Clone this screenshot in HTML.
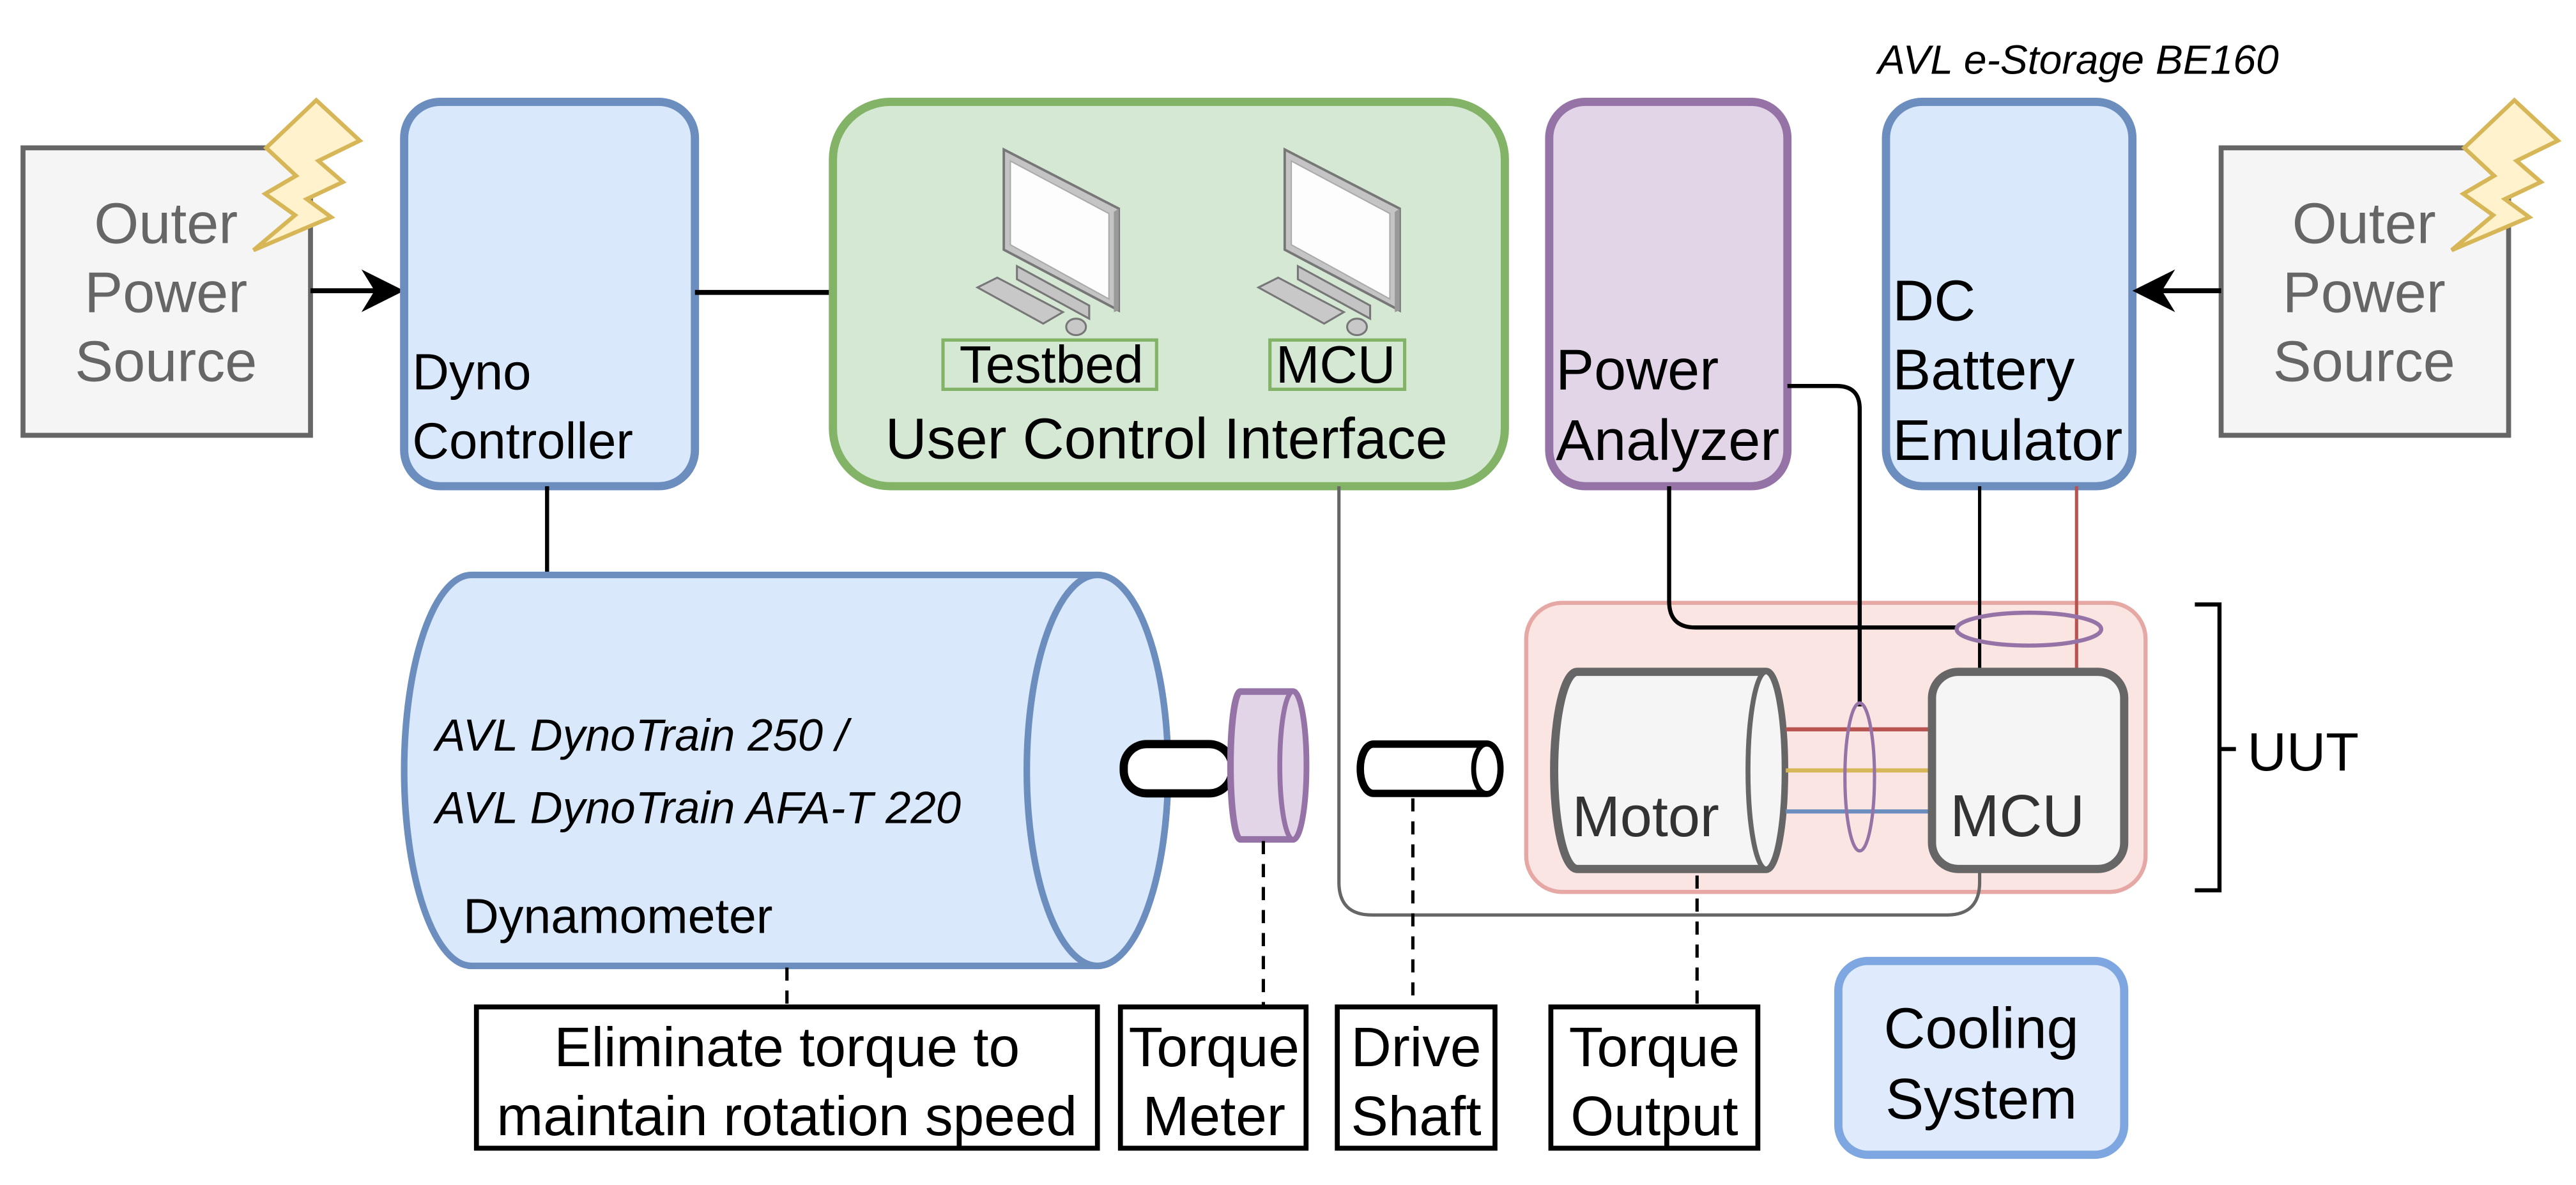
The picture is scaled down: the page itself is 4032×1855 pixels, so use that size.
<!DOCTYPE html>
<html><head><meta charset="utf-8"><style>
html,body{margin:0;padding:0;background:#fff;width:4032px;height:1855px;overflow:hidden}
svg{display:block}
text{font-family:"Liberation Sans",sans-serif}
</style></head><body>
<svg width="4032" height="1855" viewBox="0 0 1568 721.4" xmlns="http://www.w3.org/2000/svg">
<defs>
<g id="pc">
 <polygon points="24,74 68,98 68,106 24,82" fill="#c4c4c4" stroke="#777" stroke-width="1.2"/>
 <polygon points="16,3 86,39 86,101 16,64" fill="#c4c4c4" stroke="#777" stroke-width="1.5"/>
 <polygon points="86,39 83,41 83,102 86,101" fill="#999"/>
 <polygon points="20,10 80,42 80,94 20,61" fill="#fdfdfd" stroke="#aaa" stroke-width="0.8"/>
 <polygon points="0,87 12,81 52,102 40,109" fill="#c8c8c8" stroke="#777" stroke-width="1.2"/>
 <ellipse cx="60" cy="111" rx="6" ry="5" fill="#c8c8c8" stroke="#777" stroke-width="1.2"/>
</g>
<polygon id="bolt" points="192.5,61 219,85.6 193.8,97.9 208.7,110.8 186.7,121.2 201.6,132.2 154.3,152.3 179.6,131 161.4,118 180.2,107 162,90" fill="#fff2cc" stroke="#d6b656" stroke-width="2.5"/>
</defs>

<!-- Left outer power -->
<rect x="14" y="90" width="175" height="175" fill="#f5f5f5" stroke="#666" stroke-width="3"/>
<g fill="#666" font-size="35" text-anchor="middle">
<text x="101" y="148">Outer</text><text x="101" y="190">Power</text><text x="101" y="232">Source</text></g>
<use href="#bolt"/>
<line x1="189" y1="177" x2="232" y2="177" stroke="#000" stroke-width="3"/>
<polygon points="246,177 220,164 228,177 220,190" fill="#000"/>

<!-- Dyno Controller -->
<rect x="246" y="62" width="177" height="234" rx="22" fill="#dae8fc" stroke="#6c8ebf" stroke-width="5"/>
<g font-size="31" fill="#000"><text x="251" y="237">Dyno</text><text x="251" y="279">Controller</text></g>
<line x1="423" y1="178" x2="507" y2="178" stroke="#000" stroke-width="3"/>

<!-- User control -->
<rect x="507" y="62" width="409" height="234" rx="35" fill="#d5e8d4" stroke="#82b366" stroke-width="5"/>
<use href="#pc" x="595" y="88"/>
<use href="#pc" x="766" y="88"/>
<rect x="574" y="207" width="130" height="30" fill="none" stroke="#82b366" stroke-width="2"/>
<rect x="773" y="207" width="82" height="30" fill="none" stroke="#82b366" stroke-width="2"/>
<g font-size="32" fill="#000"><text x="640" y="233" text-anchor="middle">Testbed</text><text x="813" y="233" text-anchor="middle">MCU</text></g>
<text x="710" y="279" text-anchor="middle" font-size="35">User Control Interface</text>

<!-- Power Analyzer -->
<rect x="943" y="62" width="145" height="234" rx="22" fill="#e1d5e7" stroke="#9673a6" stroke-width="5"/>
<g font-size="35" fill="#000"><text x="947" y="237">Power</text><text x="947" y="280">Analyzer</text></g>

<!-- DC battery -->
<text x="1143" y="45" font-size="25" font-style="italic">AVL e-Storage BE160</text>
<rect x="1148" y="62" width="150" height="234" rx="22" fill="#dae8fc" stroke="#6c8ebf" stroke-width="5"/>
<g font-size="35" fill="#000"><text x="1152" y="195">DC</text><text x="1152" y="237">Battery</text><text x="1152" y="280">Emulator</text></g>

<!-- Right outer power -->
<rect x="1352" y="90" width="175" height="175" fill="#f5f5f5" stroke="#666" stroke-width="3"/>
<g fill="#666" font-size="35" text-anchor="middle">
<text x="1439" y="148">Outer</text><text x="1439" y="190">Power</text><text x="1439" y="232">Source</text></g>
<use href="#bolt" transform="translate(1338,0)"/>
<line x1="1352" y1="177" x2="1312" y2="177" stroke="#000" stroke-width="3"/>
<polygon points="1298,177 1324,164 1316,177 1324,190" fill="#000"/>

<!-- Dyno link -->
<line x1="333" y1="296" x2="333" y2="350" stroke="#000" stroke-width="2.5"/>

<!-- UUT box -->
<rect x="929" y="367" width="377" height="176" rx="22" fill="#fae5e3" stroke="#e6a8a5" stroke-width="2.5"/>

<!-- gray line from UI to MCU -->
<path d="M815,296 V537 Q815,557 835,557 H1185 Q1205,557 1205,537 V529" fill="none" stroke="#666" stroke-width="2"/>

<!-- Power analyzer lines -->
<path d="M1016,296 V366 Q1016,382 1032,382 H1191" fill="none" stroke="#000" stroke-width="2.5"/>
<path d="M1088,235 H1118 Q1132,235 1132,249 V430" fill="none" stroke="#000" stroke-width="2.5"/>
<line x1="1205" y1="296" x2="1205" y2="409" stroke="#000" stroke-width="2"/>
<line x1="1264" y1="296" x2="1264" y2="409" stroke="#b85450" stroke-width="2"/>
<ellipse cx="1235" cy="383" rx="44" ry="10" fill="none" stroke="#9673a6" stroke-width="2.5"/>

<!-- Motor -->
<path d="M960,409 H1075 A11,60 0 0 1 1075,529 H960 A14,60 0 0 1 960,409 Z" fill="#f5f5f5" stroke="#666" stroke-width="5"/>
<ellipse cx="1075" cy="469" rx="11" ry="60" fill="#f5f5f5" stroke="#666" stroke-width="3"/>
<text x="957" y="509" font-size="35" fill="#333">Motor</text>
<line x1="1087" y1="444" x2="1176" y2="444" stroke="#b85450" stroke-width="2.5"/>
<line x1="1087" y1="469" x2="1176" y2="469" stroke="#d6b656" stroke-width="2.5"/>
<line x1="1087" y1="494" x2="1176" y2="494" stroke="#6c8ebf" stroke-width="2.5"/>
<ellipse cx="1132" cy="473" rx="9" ry="45" fill="none" stroke="#9673a6" stroke-width="2"/>

<!-- MCU -->
<rect x="1176" y="409" width="117" height="120" rx="16" fill="#f5f5f5" stroke="#666" stroke-width="5"/>
<text x="1187" y="509" font-size="36" fill="#333">MCU</text>

<!-- UUT bracket -->
<path d="M1336,368 H1351 V542 H1336 M1351,456 H1361" fill="none" stroke="#000" stroke-width="2.5"/>
<text x="1368" y="469" font-size="33">UUT</text>

<!-- Dynamometer -->
<path d="M287,350 H668 A43,119 0 0 1 668,588 H287 A41,119 0 0 1 287,350 Z" fill="#dae8fc" stroke="#6c8ebf" stroke-width="4"/>
<ellipse cx="668" cy="469" rx="43" ry="119" fill="#dae8fc" stroke="#6c8ebf" stroke-width="4"/>
<g font-size="27.5" font-style="italic"><text x="265" y="457">AVL DynoTrain 250 /</text><text x="265" y="501">AVL DynoTrain AFA-T 220</text></g>
<text x="282" y="568" font-size="30">Dynamometer</text>

<!-- shaft stub -->
<rect x="684" y="453" width="66" height="30" rx="14" fill="#fff" stroke="#000" stroke-width="5"/>
<!-- torque meter -->
<path d="M755,421 H787 A8,45 0 0 1 787,511 H755 A6,45 0 0 1 755,421 Z" fill="#e1d5e7" stroke="#9673a6" stroke-width="4"/>
<ellipse cx="787" cy="466" rx="8" ry="45" fill="#e1d5e7" stroke="#9673a6" stroke-width="3"/>
<!-- drive shaft -->
<path d="M836,453 H905 A8,15 0 0 1 905,483 H836 A8,15 0 0 1 836,453 Z" fill="#fff" stroke="#000" stroke-width="4.5"/>
<ellipse cx="905" cy="468" rx="8" ry="15" fill="#fff" stroke="#000" stroke-width="3"/>

<!-- dashed -->
<g stroke="#000" stroke-width="2" stroke-dasharray="8,6">
<line x1="479" y1="589" x2="479" y2="613"/>
<line x1="769" y1="512" x2="769" y2="613"/>
<line x1="860" y1="486" x2="860" y2="613"/>
<line x1="1033" y1="533" x2="1033" y2="613"/>
</g>

<!-- bottom boxes -->
<g fill="#fff" stroke="#000" stroke-width="3">
<rect x="290" y="613" width="378" height="86"/>
<rect x="682" y="613" width="113" height="86"/>
<rect x="814" y="613" width="96" height="86"/>
<rect x="944" y="613" width="126" height="86"/>
</g>
<g font-size="34" text-anchor="middle">
<text x="479" y="649">Eliminate torque to</text><text x="479" y="691">maintain rotation speed</text>
<text x="739" y="649">Torque</text><text x="739" y="691">Meter</text>
<text x="862" y="649">Drive</text><text x="862" y="691">Shaft</text>
<text x="1007" y="649">Torque</text><text x="1007" y="691">Output</text>
</g>

<!-- Cooling -->
<rect x="1119" y="585" width="174" height="118" rx="18" fill="#dfeafc" stroke="#7ea6e0" stroke-width="5"/>
<g font-size="35" text-anchor="middle"><text x="1206" y="638">Cooling</text><text x="1206" y="681">System</text></g>
</svg>
</body></html>
